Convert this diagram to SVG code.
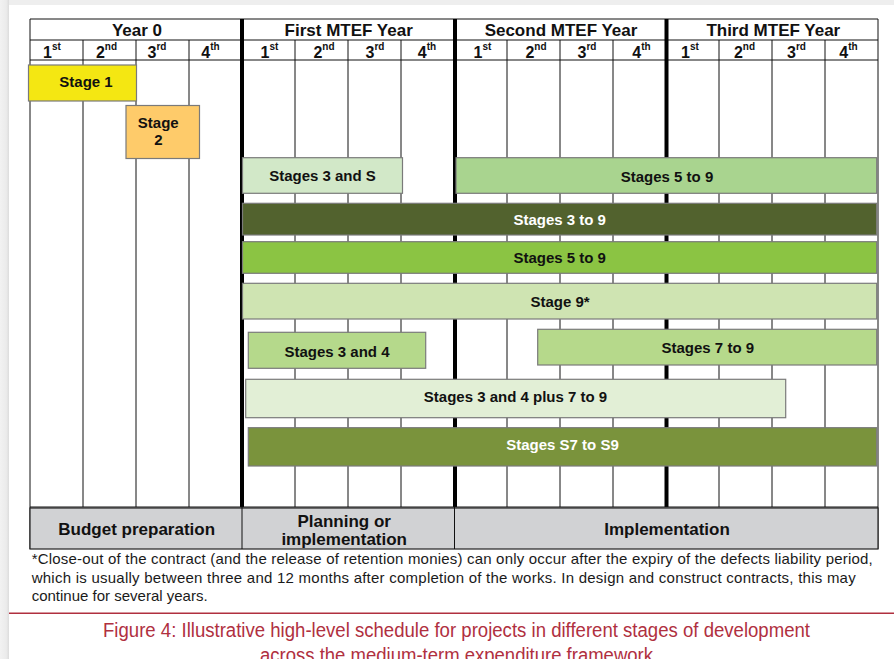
<svg xmlns="http://www.w3.org/2000/svg" width="894" height="659" viewBox="0 0 894 659">
<defs>
<linearGradient id="shadowL" x1="0" y1="0" x2="1" y2="0">
<stop offset="0" stop-color="#f2f2f2"/><stop offset="0.7" stop-color="#ebebeb"/><stop offset="1" stop-color="#dcdcdc"/>
</linearGradient>
</defs>
<style>
text{font-family:"Liberation Sans",Arial,sans-serif;}
.hdr{font-size:17px;font-weight:bold;fill:#111;text-anchor:middle;}
.q{font-size:16px;font-weight:bold;fill:#111;text-anchor:middle;}
.sup{font-size:10px;}
.thin{stroke:#111;stroke-width:1;fill:none;}
.thick{stroke:#000;stroke-width:4;fill:none;}
.bar{stroke:#7a7a7a;stroke-width:1.2;}
.lbl{font-size:15px;font-weight:bold;fill:#111;text-anchor:middle;}
.lblw{font-size:15px;font-weight:bold;fill:#fff;text-anchor:middle;}
.phase{font-size:17px;font-weight:bold;fill:#111;text-anchor:middle;}
.note{font-size:15px;fill:#1a1a1a;}
.cap{font-size:19.5px;fill:#b0303f;}
</style>
<rect x="0" y="0" width="894" height="659" fill="#eeeeee"/>
<rect x="0" y="0" width="9" height="659" fill="url(#shadowL)"/>
<rect x="9" y="5" width="885" height="654" fill="#ffffff"/>

<g id="grid">
<line class="thin" x1="30" y1="19" x2="878" y2="19"/>
<line class="thin" x1="30" y1="40" x2="878" y2="40" stroke-width="1.6"/>
<line class="thin" x1="30" y1="60" x2="878" y2="60"/>
<line class="thin" x1="30" y1="19" x2="30" y2="549" stroke-width="1.5"/>
<line class="thin" x1="878" y1="19" x2="878" y2="549" stroke-width="1.3"/>
<g class="thin">
<line x1="83" y1="40" x2="83" y2="507"/>
<line x1="136" y1="40" x2="136" y2="507"/>
<line x1="189" y1="40" x2="189" y2="507"/>
<line x1="295" y1="40" x2="295" y2="507"/>
<line x1="348" y1="40" x2="348" y2="507"/>
<line x1="401" y1="40" x2="401" y2="507"/>
<line x1="507" y1="40" x2="507" y2="507"/>
<line x1="560" y1="40" x2="560" y2="507"/>
<line x1="613" y1="40" x2="613" y2="507"/>
<line x1="719" y1="40" x2="719" y2="507"/>
<line x1="772" y1="40" x2="772" y2="507"/>
<line x1="825" y1="40" x2="825" y2="507"/>
</g>
<line class="thick" x1="242" y1="19" x2="242" y2="507"/>
<line class="thick" x1="455" y1="19" x2="455" y2="507"/>
<line class="thick" x1="666.5" y1="19" x2="666.5" y2="507"/>
</g>

<g id="header">
<text class="hdr" x="137" y="36">Year 0</text>
<text class="hdr" x="348.7" y="36">First MTEF Year</text>
<text class="hdr" x="561" y="36">Second MTEF Year</text>
<text class="hdr" x="773.3" y="36">Third MTEF Year</text>
<text class="q" x="52" y="58">1<tspan class="sup" dy="-8">st</tspan></text>
<text class="q" x="106.5" y="58">2<tspan class="sup" dy="-8">nd</tspan></text>
<text class="q" x="157" y="58">3<tspan class="sup" dy="-8">rd</tspan></text>
<text class="q" x="210.5" y="58">4<tspan class="sup" dy="-8">th</tspan></text>
<text class="q" x="269.5" y="58">1<tspan class="sup" dy="-8">st</tspan></text>
<text class="q" x="324" y="58">2<tspan class="sup" dy="-8">nd</tspan></text>
<text class="q" x="375" y="58">3<tspan class="sup" dy="-8">rd</tspan></text>
<text class="q" x="427" y="58">4<tspan class="sup" dy="-8">th</tspan></text>
<text class="q" x="482.5" y="58">1<tspan class="sup" dy="-8">st</tspan></text>
<text class="q" x="536" y="58">2<tspan class="sup" dy="-8">nd</tspan></text>
<text class="q" x="587" y="58">3<tspan class="sup" dy="-8">rd</tspan></text>
<text class="q" x="641.5" y="58">4<tspan class="sup" dy="-8">th</tspan></text>
<text class="q" x="690" y="58">1<tspan class="sup" dy="-8">st</tspan></text>
<text class="q" x="744.5" y="58">2<tspan class="sup" dy="-8">nd</tspan></text>
<text class="q" x="796.5" y="58">3<tspan class="sup" dy="-8">rd</tspan></text>
<text class="q" x="848.5" y="58">4<tspan class="sup" dy="-8">th</tspan></text>
</g>

<g id="stage1">
<rect class="bar" x="28.5" y="65" width="108" height="36" fill="#f4e712"/>
<text class="lbl" x="86" y="87">Stage 1</text>
</g>
<g id="stage2">
<rect class="bar" x="126" y="105.5" width="73.5" height="53" fill="#fecb6a"/>
<text class="lbl" x="158.3" y="128">Stage</text>
<text class="lbl" x="158.3" y="145">2</text>
</g>
<g id="stages3andS">
<rect class="bar" x="242.5" y="157.7" width="160" height="35.6" fill="#d2e8c8"/>
<text class="lbl" x="322.5" y="181">Stages 3 and S</text>
</g>
<g id="stages5to9a">
<rect class="bar" x="456" y="157.7" width="420.7" height="35.6" fill="#a9d48f"/>
<text class="lbl" x="667" y="181.5">Stages 5 to 9</text>
</g>
<g id="stages3to9">
<rect class="bar" x="242.5" y="203.3" width="634.2" height="31.7" fill="#52622e" stroke="#4a4a4a"/>
<text class="lblw" x="559.7" y="225">Stages 3 to 9</text>
</g>
<g id="stages5to9b">
<rect class="bar" x="242.5" y="241.7" width="634.2" height="31.6" fill="#8bc443" stroke="#555"/>
<text class="lbl" x="559.7" y="263">Stages 5 to 9</text>
</g>
<g id="stage9">
<rect class="bar" x="242.5" y="283.3" width="634.2" height="35.7" fill="#cfe4b2"/>
<text class="lbl" x="560" y="306.5">Stage 9*</text>
</g>
<g id="stages3and4">
<rect class="bar" x="248.3" y="332.3" width="177.4" height="36" fill="#b5d98b"/>
<text class="lbl" x="337" y="356.5">Stages 3 and 4</text>
</g>
<g id="stages7to9">
<rect class="bar" x="537.7" y="329.3" width="339" height="35.7" fill="#b6d98b"/>
<text class="lbl" x="707.8" y="353">Stages 7 to 9</text>
</g>
<g id="stages3and4plus7to9">
<rect class="bar" x="245.7" y="379.3" width="540" height="38.4" fill="#e2efd6"/>
<text class="lbl" x="515.5" y="401.5">Stages 3 and 4 plus 7 to 9</text>
</g>
<g id="stagesS7toS9">
<rect class="bar" x="248.3" y="427.7" width="628.4" height="38.3" fill="#7a933c" stroke="#666"/>
<text class="lblw" x="562.5" y="450">Stages S7 to S9</text>
</g>

<g id="phases">
<rect x="30" y="508" width="848" height="41" fill="#d1d2d4" stroke="#222" stroke-width="1.2"/>
<line class="thin" x1="30" y1="507" x2="878" y2="507" stroke-width="2.2"/>
<line class="thin" x1="242" y1="507" x2="242" y2="549"/>
<line class="thin" x1="454.5" y1="507" x2="454.5" y2="549"/>
<text class="phase" x="136.7" y="535">Budget preparation</text>
<text class="phase" x="344.2" y="526.5">Planning or</text>
<text class="phase" x="344.2" y="545">implementation</text>
<text class="phase" x="667" y="535">Implementation</text>
</g>

<g id="footnote">
<text class="note" x="31.7" y="564" textLength="841">*Close-out of the contract (and the release of retention monies) can only occur after the expiry of the defects liability period,</text>
<text class="note" x="31.7" y="583" textLength="824">which is usually between three and 12 months after completion of the works. In design and construct contracts, this may</text>
<text class="note" x="31.7" y="601">continue for several years.</text>
</g>

<g id="caption">
<line x1="9" y1="613.3" x2="894" y2="613.3" stroke="#b0303f" stroke-width="1.5"/>
<text class="cap" x="103" y="637" textLength="707" lengthAdjust="spacingAndGlyphs">Figure 4: Illustrative high-level schedule for projects in different stages of development</text>
<text class="cap" x="260" y="662" textLength="393" lengthAdjust="spacingAndGlyphs">across the medium-term expenditure framework</text>
</g>
</svg>
